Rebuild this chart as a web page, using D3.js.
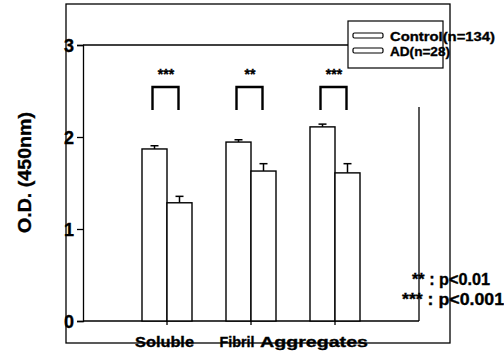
<!DOCTYPE html>
<html><head><meta charset="utf-8">
<script src="https://cdn.jsdelivr.net/npm/d3@7"></script>
<style>
html,body{margin:0;padding:0;background:#fff;}
svg{display:block;}
svg text{font-family:"Liberation Sans",Arial,sans-serif;font-weight:700;fill:#000;stroke:#000;stroke-width:0.35px;}
</style></head>
<body>
<svg id="chart" width="504" height="357"></svg>
<script>
const categories = ["Soluble", "Fibril", "Aggregates"];
const seriesNames = ["Control(n=134)", "AD(n=28)"];
const controlValues = [1.87, 1.945, 2.11];
const controlErrors = [0.035, 0.025, 0.03];
const adValues = [1.285, 1.63, 1.61];
const adErrors = [0.07, 0.08, 0.10];
const significance = ["***", "**", "***"];
const yTicks = [0, 1, 2, 3];
const yLabel = "O.D. (450nm)";
const notes = ["** : p<0.01", "*** : p<0.001"];

const svg = d3.select("#chart");
const y = d3.scaleLinear().domain([0, 3]).range([321, 45]);
const x0 = d3.scaleBand().domain(categories).range([125, 377]).padding(0);
const x1 = d3.scaleBand().domain(["Control", "AD"]).range([17, 67]).padding(0);

// outer frame
svg.append("rect").attr("x", 66).attr("y", 4).attr("width", 384).attr("height", 339)
  .attr("fill", "none").attr("stroke", "#000").attr("stroke-width", 1.3);

// inner frame lines
svg.append("line").attr("x1", 83).attr("x2", 419).attr("y1", y(3)).attr("y2", y(3)).attr("stroke", "#000").attr("stroke-width", 1.3);
svg.append("line").attr("x1", 419).attr("x2", 419).attr("y1", 107).attr("y2", y(0)).attr("stroke", "#000").attr("stroke-width", 1.3);

// y axis
const yAxis = d3.axisLeft(y).tickValues(yTicks).tickFormat(d3.format("d")).tickSize(6).tickPadding(3);
const gy = svg.append("g").attr("transform", "translate(83,0)").call(yAxis);
gy.select(".domain").attr("stroke-width", 1.3);
gy.selectAll(".tick line").attr("stroke-width", 1.3);
gy.selectAll(".tick text").attr("font-size", 18).attr("dy", "0.36em");

// x axis baseline with ticks at group centres
const xAxis = d3.axisBottom(x0).tickSize(4).tickFormat("");
const gx = svg.append("g").attr("transform", `translate(0,${y(0)})`).call(xAxis);
gx.select(".domain").attr("d", "M83,0H419").attr("stroke-width", 1.3);
gx.selectAll(".tick line").attr("stroke-width", 1.3);

// bars
const data = categories.map((c, i) => ({
  cat: c,
  bars: [
    { s: "Control", v: controlValues[i], e: controlErrors[i] },
    { s: "AD", v: adValues[i], e: adErrors[i] }
  ],
  sig: significance[i]
}));

const groups = svg.append("g").selectAll("g").data(data).join("g")
  .attr("transform", d => `translate(${x0(d.cat)},0)`);

groups.selectAll("line.err").data(d => d.bars).join("line").attr("class", "err")
  .attr("x1", d => x1(d.s) + x1.bandwidth() / 2).attr("x2", d => x1(d.s) + x1.bandwidth() / 2)
  .attr("y1", d => y(d.v)).attr("y2", d => y(d.v + d.e)).attr("stroke", "#000").attr("stroke-width", 1.5);
groups.selectAll("line.cap").data(d => d.bars).join("line").attr("class", "cap")
  .attr("x1", d => x1(d.s) + x1.bandwidth() / 2 - 4).attr("x2", d => x1(d.s) + x1.bandwidth() / 2 + 4)
  .attr("y1", d => y(d.v + d.e)).attr("y2", d => y(d.v + d.e)).attr("stroke", "#000").attr("stroke-width", 1.5);
groups.selectAll("rect").data(d => d.bars).join("rect")
  .attr("x", d => x1(d.s)).attr("width", x1.bandwidth())
  .attr("y", d => y(d.v)).attr("height", d => y(0) - y(d.v))
  .attr("fill", "#fff").attr("stroke", "#000").attr("stroke-width", 1.4);

// significance brackets
groups.append("path")
  .attr("d", d => {
    const a = x1("Control") + x1.bandwidth() / 2 - 2, b = x1("AD") + x1.bandwidth() / 2 - 1;
    return `M${a},110V87H${b}V110`;
  })
  .attr("fill", "none").attr("stroke", "#000").attr("stroke-width", 2.4);
groups.append("text")
  .attr("x", d => x1("AD") - 1).attr("y", 79)
  .attr("text-anchor", "middle").attr("font-size", 14).text(d => d.sig);

// x labels
const labelPos = { "Soluble": [164.5, 59], "Fibril": [237, 35], "Aggregates": [314, 108] };
svg.append("g").selectAll("text").data(categories).join("text")
  .attr("x", d => labelPos[d][0] - labelPos[d][1] / 2).attr("y", 347)
  .attr("textLength", d => labelPos[d][1]).attr("lengthAdjust", "spacingAndGlyphs")
  .attr("font-size", 15).text(d => d);

// y label
svg.append("text").attr("transform", "translate(31,233) rotate(-90)")
  .attr("textLength", 121).attr("lengthAdjust", "spacingAndGlyphs")
  .attr("font-size", 18).text(yLabel);

// legend
const lg = svg.append("g");
lg.append("rect").attr("x", 348).attr("y", 21).attr("width", 95).attr("height", 47)
  .attr("fill", "#fff").attr("stroke", "#000").attr("stroke-width", 1.2);
const legW = [105, 60];
seriesNames.forEach((s, i) => {
  lg.append("rect").attr("x", 353).attr("y", 33 + i * 15).attr("width", 30).attr("height", 5)
    .attr("rx", 1.5).attr("fill", "#fff").attr("stroke", "#000").attr("stroke-width", 1.2);
  lg.append("text").attr("x", 390).attr("y", 41 + i * 15)
    .attr("textLength", legW[i]).attr("lengthAdjust", "spacingAndGlyphs")
    .attr("font-size", 13).text(s);
});

// p-value notes
const noteX = [412, 402], noteW = [78, 102];
notes.forEach((n, i) => {
  svg.append("text").attr("x", noteX[i]).attr("y", 285 + i * 20)
    .attr("textLength", noteW[i]).attr("lengthAdjust", "spacingAndGlyphs")
    .attr("font-size", 16).text(n);
});
</script>
</body></html>
